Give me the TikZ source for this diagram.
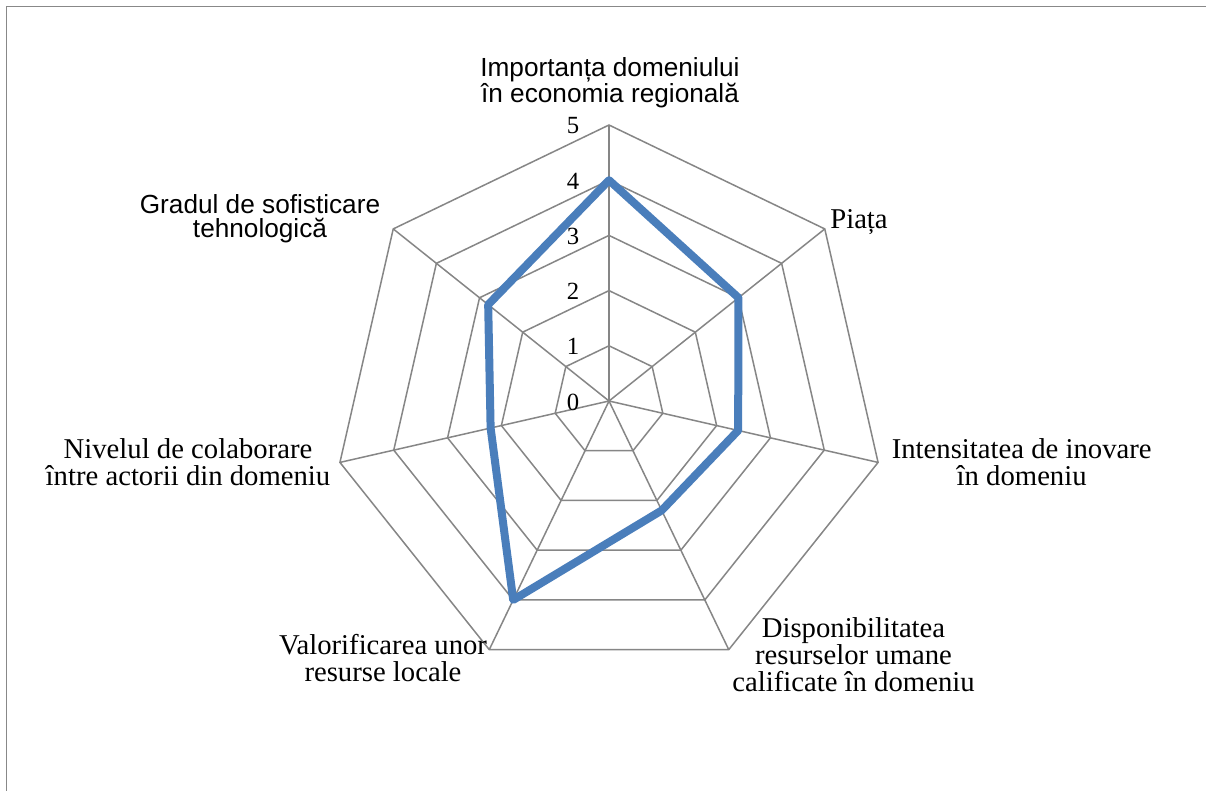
\documentclass[tikz,border=0pt]{standalone}
\usepackage{fontspec}
\setmainfont{Liberation Serif}
\newfontfamily\labsans{Liberation Sans}
\usetikzlibrary{calc}
\definecolor{gridgray}{RGB}{134,134,134}
\definecolor{framegray}{RGB}{136,136,136}
\definecolor{seriesblue}{RGB}{74,126,187}
\begin{document}
\begin{tikzpicture}[x=1pt,y=-1pt,
  gridline/.style={draw=gridgray,line width=1.5pt},
  series/.style={draw=seriesblue,line width=8pt,line join=round,line cap=round},
  frameline/.style={draw=framegray,line width=1.6pt},
  serlab/.style={inner sep=0pt,align=center,anchor=base,font=\fontsize{28.7}{27}\selectfont},
  sanslab/.style={inner sep=0pt,align=center,anchor=base,font=\labsans\fontsize{26.2}{23.8}\selectfont},
  ticklab/.style={inner sep=0pt,anchor=base,font=\fontsize{24.7}{26}\selectfont}]
\useasboundingbox (0,0) rectangle (1206,791);
\fill[white] (0,0) rectangle (1206,791);
\draw[frameline] (6.5,791) -- (6.5,6.5) -- (1206,6.5);
\coordinate (c) at (609,401);
\foreach \k in {0,...,6}{
  \foreach \l in {1,...,5}{
    \coordinate (p\k-\l) at ($(c)+({\k*360/7-90}:{55.2*\l})$);
  }
}
\foreach \l in {1,...,5}
  \draw[gridline] (p0-\l) -- (p1-\l) -- (p2-\l) -- (p3-\l) -- (p4-\l) -- (p5-\l) -- (p6-\l) -- cycle;
\foreach \k in {0,...,6}
  \draw[gridline] (c) -- (p\k-5);
\foreach \k/\v in {0/4,1/3,2/2.4,3/2.2,4/4,5/2.2,6/2.8}
  \coordinate (d\k) at ($(c)+({\k*360/7-90}:{55.2*\v})$);
\draw[series] (d0) -- (d1) -- (d2) -- (d3) -- (d4) -- (d5) -- (d6) -- cycle;
\foreach \l in {0,...,5}
  \node[ticklab] (t\l) at (573,{410-55.2*\l}) {\l};
\node[sanslab] (imp) at (610,102.8) {Importanța domeniului\\în economia regională};
\node[serlab] (piata) at (859,228.3) {Piața};
\node[serlab] (intens) at (1021.7,485.5) {Intensitatea de inovare\\în domeniu};
\node[serlab] (dispon) at (853.5,691.5) {Disponibilitatea\\resurselor umane\\calificate în domeniu};
\node[serlab] (valor) at (383,681.5) {Valorificarea unor\\resurse locale};
\node[serlab] (nivel) at (188,485) {Nivelul de colaborare\\între actorii din domeniu};
\node[sanslab] (gradul) at (260,237.3) {Gradul de sofisticare\\tehnologică};
\end{tikzpicture}
\end{document}
